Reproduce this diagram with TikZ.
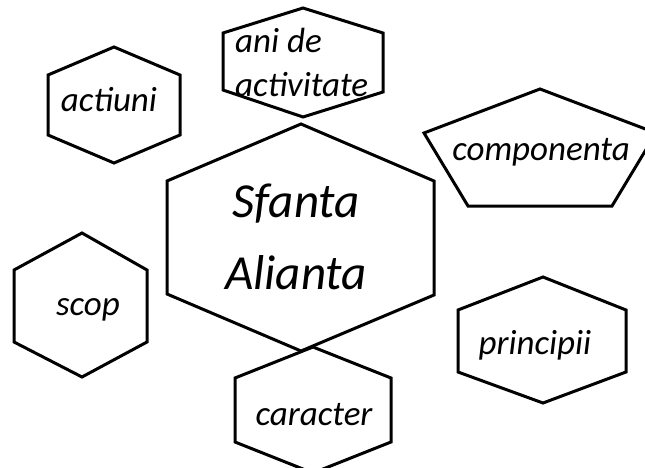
\documentclass[tikz,border=0pt]{standalone}
\usepackage{fontspec}
\setmainfont{Carlito}
\begin{document}
\begin{tikzpicture}[x=1pt,y=-1pt,
  outline/.style={draw=black,line width=3pt,line join=miter},
  lbl/.style={font=\itshape\fontsize{35}{42}\selectfont,inner sep=0pt},
  biglbl/.style={font=\itshape\fontsize{49}{72}\selectfont,inner sep=0pt,align=center}]
\useasboundingbox (0,0) rectangle (645,468);
% central hexagon
\draw[outline] (301,124) -- (434,181) -- (434,295) -- (301,351) -- (167,294) -- (167,181) -- cycle;
% ani de activitate
\draw[outline] (303,8) -- (383,33) -- (383,92) -- (303,117) -- (223,90) -- (223,33) -- cycle;
% componenta pentagon
\draw[outline] (540,89) -- (656,133) -- (612,206) -- (468,206) -- (424,133) -- cycle;
% actiuni
\draw[outline] (114,47) -- (180,75) -- (180,135) -- (114,163) -- (48,135) -- (48,75) -- cycle;
% scop
\draw[outline] (82,233) -- (147,270) -- (147,342) -- (82,377) -- (14,342) -- (14,270) -- cycle;
% caracter
\draw[outline] (313,347) -- (391,378) -- (391,442) -- (313,473) -- (235,442) -- (235,378) -- cycle;
% principii
\draw[outline] (543,277) -- (626,310) -- (626,372) -- (543,403) -- (458,372) -- (458,310) -- cycle;
% labels
\node[biglbl] (main) at (296,237) {Sfanta\\Alianta};
\node[lbl,anchor=west] (ani1) at (235,40) {ani de};
\node[lbl,anchor=west] (ani2) at (235,85) {activitate};
\node[lbl] (comp) at (541,152) {componenta};
\node[lbl] (act) at (109,100) {actiuni};
\node[lbl] (scop) at (88,310) {scop};
\node[lbl] (car) at (314,415) {caracter};
\node[lbl] (prin) at (535,345) {principii};
\end{tikzpicture}
\end{document}
